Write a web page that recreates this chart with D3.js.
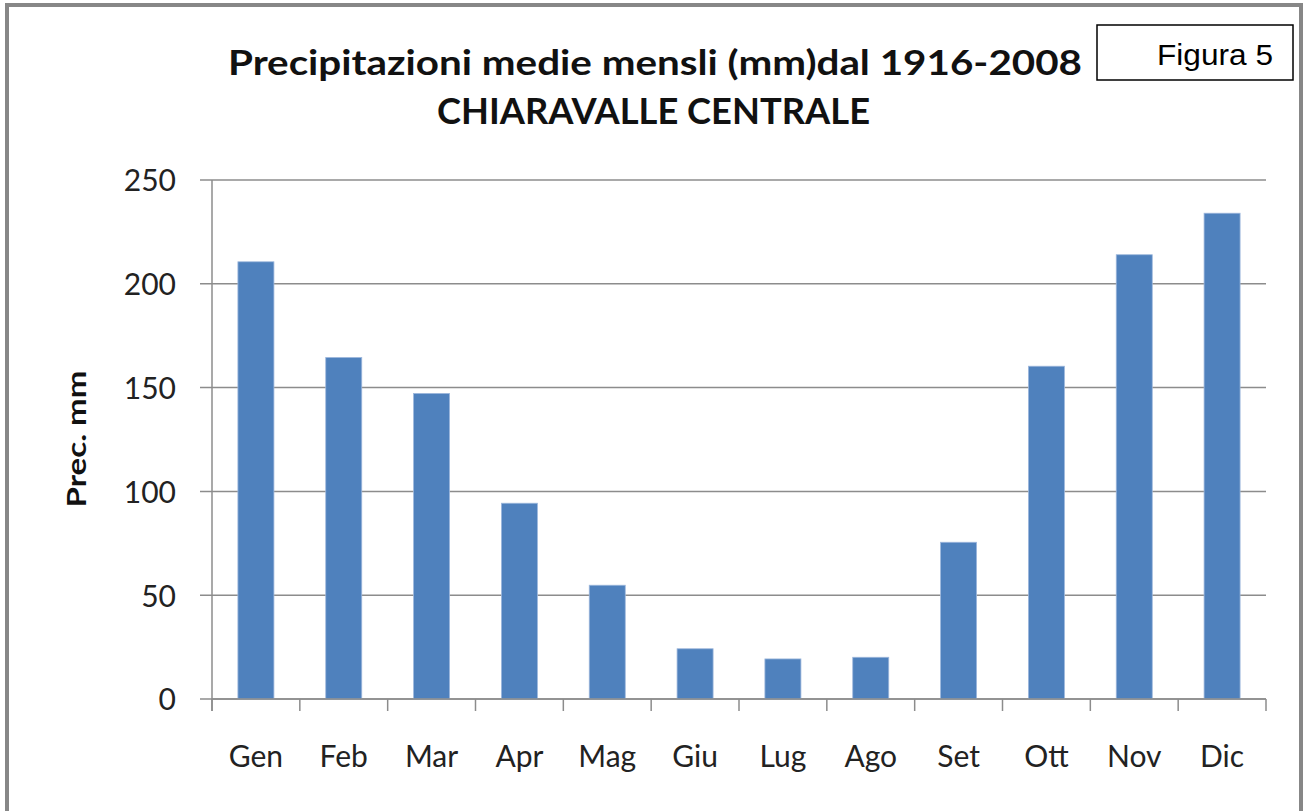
<!DOCTYPE html>
<html><head><meta charset="utf-8">
<script src="https://cdn.jsdelivr.net/npm/d3@7"></script>
<style>
html,body{margin:0;padding:0;background:#fff;}
svg{display:block;}
</style></head>
<body>
<svg id="chart" width="1305" height="811"></svg>
<script>
const months = ["Gen","Feb","Mar","Apr","Mag","Giu","Lug","Ago","Set","Ott","Nov","Dic"];
const precipitation = [210.6, 164.5, 147.2, 94.3, 54.8, 24.2, 19.3, 20.1, 75.5, 160.3, 214.0, 234.0];
const yTicks = [0, 50, 100, 150, 200, 250];
const titleLine1 = "Precipitazioni medie mensli (mm)dal 1916-2008";
const titleLine2 = "CHIARAVALLE CENTRALE";
const yTitle = "Prec. mm";
const figLabel = "Figura 5";

const svg = d3.select("#chart");
const plotLeft = 212, plotRight = 1266, plotTop = 180, plotBottom = 699;

// outer border
svg.append("path")
  .attr("d", `M7,811 L7,5 L1301,5 L1301,811`)
  .attr("fill", "none").attr("stroke", "#878787").attr("stroke-width", 4);

const x = d3.scaleBand().domain(months).range([plotLeft, plotRight]).paddingInner(0.59).paddingOuter(0.295);
const y = d3.scaleLinear().domain([0, 250]).range([plotBottom, plotTop]);

// gridlines
svg.append("g").selectAll("line").data(yTicks).join("line")
  .attr("x1", plotLeft - 12).attr("x2", plotRight)
  .attr("y1", d => y(d)).attr("y2", d => y(d))
  .attr("stroke", "#8c8c8c").attr("stroke-width", 1.5);

// y axis labels
const yAxis = d3.axisLeft(y).tickValues(yTicks).tickSize(0).tickPadding(0);
const gy = svg.append("g").attr("transform", `translate(${plotLeft - 36},0)`).call(yAxis);
gy.select(".domain").remove();
gy.selectAll("text").attr("font-family", "Lato, 'Open Sans', sans-serif")
  .attr("font-size", 30).attr("fill", "#222").attr("dy", "0.36em");

// y axis line
svg.append("line").attr("x1", plotLeft).attr("x2", plotLeft).attr("y1", plotTop).attr("y2", plotBottom + 12)
  .attr("stroke", "#8c8c8c").attr("stroke-width", 1.5);

// x axis ticks at category boundaries
const bounds = d3.range(months.length + 1).map(i => x.range()[0] + i * x.step());
svg.append("g").selectAll("line").data(bounds).join("line")
  .attr("x1", d => d).attr("x2", d => d).attr("y1", plotBottom).attr("y2", plotBottom + 12)
  .attr("stroke", "#8c8c8c").attr("stroke-width", 1.5);

// bars
svg.append("g").selectAll("rect").data(precipitation).join("rect")
  .attr("x", (d, i) => x(months[i]))
  .attr("width", x.bandwidth())
  .attr("y", d => y(d))
  .attr("height", d => y(0) - y(d))
  .attr("fill", "#4f81bd")
  .attr("stroke", "#9db7dc").attr("stroke-width", 0.8);

// x axis line
svg.append("line").attr("x1", plotLeft).attr("x2", plotRight).attr("y1", plotBottom).attr("y2", plotBottom)
  .attr("stroke", "#8c8c8c").attr("stroke-width", 1.5);

// month labels
const xAxis = d3.axisBottom(x).tickSize(0).tickPadding(0);
const gx = svg.append("g").attr("transform", `translate(0,${plotBottom})`).call(xAxis);
gx.select(".domain").remove();
gx.selectAll("text").attr("font-family", "Lato, 'Open Sans', sans-serif")
  .attr("font-size", 30).attr("fill", "#222").attr("dy", null).attr("y", 68);

// y title
svg.append("text")
  .attr("transform", "translate(86,439) rotate(-90)")
  .attr("text-anchor", "middle")
  .attr("font-family", "Lato, 'Open Sans', sans-serif").attr("font-weight", "bold")
  .attr("font-size", 27).attr("fill", "#111")
  .attr("textLength", 137).attr("lengthAdjust", "spacingAndGlyphs")
  .text(yTitle);

// titles
svg.append("text").attr("x", 228).attr("y", 75)
  .attr("font-family", "Lato, 'Open Sans', sans-serif").attr("font-weight", "bold")
  .attr("font-size", 35).attr("fill", "#111")
  .attr("textLength", 854).attr("lengthAdjust", "spacingAndGlyphs")
  .text(titleLine1);
svg.append("text").attr("x", 437).attr("y", 124)
  .attr("font-family", "Lato, 'Open Sans', sans-serif").attr("font-weight", "bold")
  .attr("font-size", 36).attr("fill", "#111")
  .attr("textLength", 433).attr("lengthAdjust", "spacingAndGlyphs")
  .text(titleLine2);

// Figura box
svg.append("rect").attr("x", 1097).attr("y", 25).attr("width", 196).attr("height", 55)
  .attr("fill", "#fff").attr("stroke", "#000").attr("stroke-width", 1.5);
svg.append("text").attr("x", 1157).attr("y", 65)
  .attr("font-family", "'Liberation Sans', Arial, sans-serif")
  .attr("font-size", 29).attr("fill", "#000")
  .attr("textLength", 116).attr("lengthAdjust", "spacingAndGlyphs")
  .text(figLabel);
</script>
</body></html>
